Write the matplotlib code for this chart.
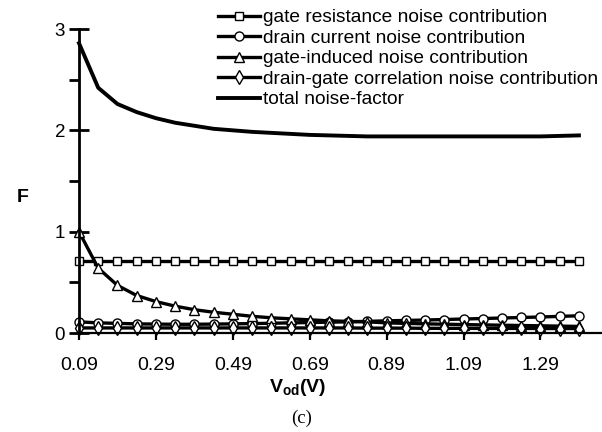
import matplotlib
matplotlib.use("Agg")
import matplotlib.pyplot as plt
from matplotlib.ticker import FixedLocator

plt.rcParams['font.family'] = ['Liberation Sans', 'DejaVu Sans']
plt.rcParams['mathtext.fontset'] = 'custom'
plt.rcParams['mathtext.rm'] = 'Liberation Sans'
plt.rcParams['mathtext.bf'] = 'Liberation Sans:bold'

# Overdrive voltage categories (V)
vod = ["0.09", "0.14", "0.19", "0.24", "0.29", "0.34", "0.39", "0.44", "0.49",
       "0.54", "0.59", "0.64", "0.69", "0.74", "0.79", "0.84", "0.89", "0.94",
       "0.99", "1.04", "1.09", "1.14", "1.19", "1.24", "1.29", "1.34", "1.39"]

gate_resistance = [0.71] * 27
drain_current = [0.11, 0.10, 0.095, 0.09, 0.088, 0.086, 0.086, 0.088, 0.09, 0.093,
                 0.096, 0.10, 0.103, 0.107, 0.11, 0.115, 0.12, 0.124, 0.128, 0.133,
                 0.138, 0.143, 0.148, 0.153, 0.158, 0.164, 0.17]
gate_induced = [1.0, 0.64, 0.47, 0.37, 0.31, 0.265, 0.23, 0.205, 0.185, 0.165,
                0.15, 0.14, 0.13, 0.12, 0.115, 0.11, 0.10, 0.095, 0.09, 0.087,
                0.083, 0.08, 0.077, 0.074, 0.071, 0.068, 0.065]
drain_gate_corr = [0.05, 0.05, 0.05, 0.05, 0.05, 0.05, 0.05, 0.05, 0.05, 0.05,
                   0.05, 0.05, 0.05, 0.05, 0.05, 0.048, 0.048, 0.048, 0.046, 0.046,
                   0.046, 0.045, 0.045, 0.045, 0.044, 0.044, 0.044]
total_noise = [2.86, 2.42, 2.26, 2.18, 2.12, 2.075, 2.045, 2.015, 2.00, 1.985,
               1.975, 1.965, 1.955, 1.95, 1.945, 1.94, 1.94, 1.94, 1.94, 1.94,
               1.94, 1.94, 1.94, 1.94, 1.94, 1.945, 1.95]

labels = ["gate resistance noise contribution",
          "drain current noise contribution",
          "gate-induced noise contribution",
          "drain-gate correlation noise contribution",
          "total noise-factor"]

fig = plt.figure(figsize=(6.02, 4.32), dpi=100)
ax = fig.add_axes([79 / 602, 99 / 432, 523 / 602, 304 / 432])

x = list(range(len(vod)))
lw = 2.4
mk = dict(markerfacecolor='white', markeredgecolor='black', markeredgewidth=1.0,
          clip_on=False)

ax.plot(x, gate_resistance, color='black', lw=lw, marker='s', markersize=5.5,
        label=labels[0], **mk)
ax.plot(x, drain_current, color='black', lw=lw, marker='o', markersize=6.5,
        label=labels[1], **mk)
ax.plot(x, gate_induced, color='black', lw=lw, marker='^', markersize=6.5,
        label=labels[2], **mk)
ax.plot(x, drain_gate_corr, color='black', lw=lw, marker='d', markersize=7,
        label=labels[3], **mk)
ax.plot(x, total_noise, color='black', lw=2.8, label=labels[4], clip_on=False)

ax.set_xlim(0, 27.2)
ax.set_ylim(0, 3)

for s in ('top', 'right'):
    ax.spines[s].set_visible(False)
ax.spines['left'].set_linewidth(2.0)
ax.spines['bottom'].set_linewidth(1.6)

tick_idx = list(range(0, 27, 4))
ax.set_xticks(tick_idx)
ax.set_xticklabels([vod[i] for i in tick_idx], fontsize=14)
ax.tick_params(axis='x', direction='out', length=5, width=1.6, pad=12)

ax.set_yticks([0, 1, 2, 3])
ax.set_yticklabels(["0", "1", "2", "3"], fontsize=13.5)
ax.yaxis.set_minor_locator(FixedLocator([0.5, 1.5, 2.5]))
ax.tick_params(axis='y', which='major', direction='inout', length=14, width=2.0, pad=3)
ax.tick_params(axis='y', which='minor', direction='out', length=7, width=2.0)

fig.text(23 / 602, 1 - 197 / 432, "F", fontsize=14, fontweight='bold',
         ha='center', va='center')
fig.text(298 / 602, 1 - 387 / 432, r"$\mathbf{V_{od}(V)}$", fontsize=14,
         ha='center', va='center')
fig.text(302 / 602, 1 - 418 / 432, "(c)", fontsize=13.5, family='Liberation Serif',
         ha='center', va='center')

leg = ax.legend(loc='upper right', bbox_to_anchor=(0.998, 0.986),
                bbox_transform=fig.transFigure, frameon=False, fontsize=13.8,
                handlelength=2.2, handletextpad=0.15, labelspacing=0.16,
                borderpad=0.15, borderaxespad=0)

fig.savefig("out.png", dpi=100)
